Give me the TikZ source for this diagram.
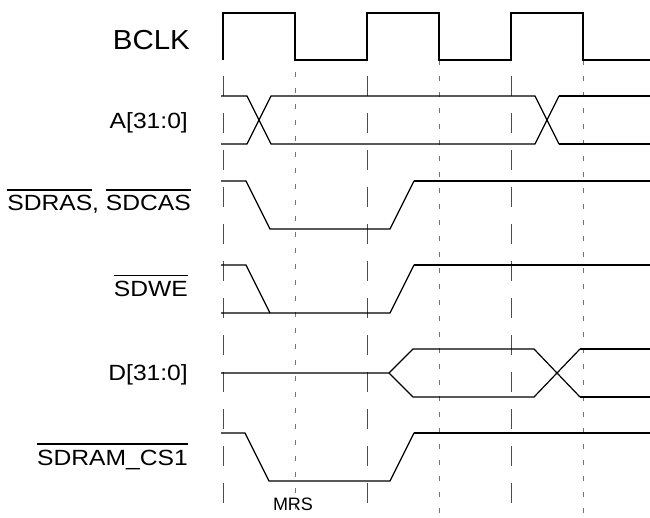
\documentclass[tikz,border=0pt]{standalone}
\usepackage{fontspec}
\setmainfont{Liberation Sans}
\newcommand\ovl[1]{\leavevmode\setbox0\hbox{#1}\rlap{\rule[\dimexpr\ht0+5pt\relax]{\wd0}{1.4pt}}\box0}
\newcommand\sx[1]{\scalebox{1.12}[1]{#1}}
\tikzset{
  lbl/.style={anchor=base east, inner sep=0pt, font=\fontsize{22}{26}\selectfont},
  clklbl/.style={anchor=base east, inner sep=0pt, font=\fontsize{27.5}{32}\selectfont},
  small/.style={anchor=base, inner sep=0pt, font=\fontsize{18}{21}\selectfont},
  sig/.style={line width=1.2pt, line join=miter},
  sigb/.style={line width=2.1pt, line cap=butt},
  clk/.style={line width=2.1pt, line join=miter},
  gsolid/.style={black!70, line width=0.9pt, dash pattern=on 20pt off 17pt},
  gdash/.style={black!55, line width=0.9pt, dash pattern=on 5pt off 11pt},
}
\begin{document}
\begin{tikzpicture}[x=1pt, y=-1pt]
\useasboundingbox (0,0) rectangle (650,518);
% grid lines
\foreach \gx in {223,367,511} \draw[gsolid] (\gx,76) -- (\gx,504);
\draw[gdash] (295,72) -- (295,518);
\foreach \gx in {439,583} \draw[gdash] (\gx,60) -- (\gx,518);
% labels
\node[clklbl] (lclk) at (190,49.5) {\scalebox{1.07}[1]{BCLK}};
\node[lbl] (la) at (188,128.5) {\sx{A[31:0]}};
\node[lbl] (lras) at (191,211) {\sx{\ovl{SDRAS}, \ovl{SDCAS}}};
\node[lbl] (lwe) at (188,296.5) {\sx{\ovl{SDWE}}};
\node[lbl] (ld) at (188,380) {\sx{D[31:0]}};
\node[lbl] (lcs) at (188,465) {\sx{\ovl{SDRAM\_CS1}}};
\node[small] (mrs) at (293,510) {MRS};
% BCLK
\draw[clk] (223,60) -- (223,13) -- (295,13) -- (295,60) -- (367,60) -- (367,13) -- (439,13) -- (439,60) -- (511,60) -- (511,13) -- (583,13) -- (583,60) -- (650,60);
% A[31:0]
\draw[sig] (221,96) -- (247,96) -- (271,144) -- (535,144) -- (559,96);
\draw[sig] (221,144) -- (247,144) -- (271,96) -- (535,96) -- (559,144);
\draw[sigb] (558.5,96) -- (650,96);
\draw[sigb] (558.5,144) -- (650,144);
% SDRAS, SDCAS
\draw[sig] (221,181) -- (246,181) -- (270,229) -- (390,229) -- (414,181);
\draw[sigb] (413.5,181) -- (650,181);
% SDWE
\draw[sig] (221,265) -- (246,265) -- (270,313);
\draw[sig] (221,313) -- (390,313) -- (414,265);
\draw[sigb] (413.5,265) -- (650,265);
% D[31:0]
\draw[sig] (221,373) -- (389,373) -- (413,349) -- (534,349) -- (580,397);
\draw[sig] (389,373) -- (413,397) -- (534,397) -- (580,349);
\draw[sigb] (579.5,349) -- (650,349);
\draw[sigb] (579.5,397) -- (650,397);
% SDRAM_CS1
\draw[sig] (221,433) -- (245,433) -- (269,481) -- (390,481) -- (414,433);
\draw[sigb] (413.5,433) -- (650,433);
\end{tikzpicture}
\end{document}
